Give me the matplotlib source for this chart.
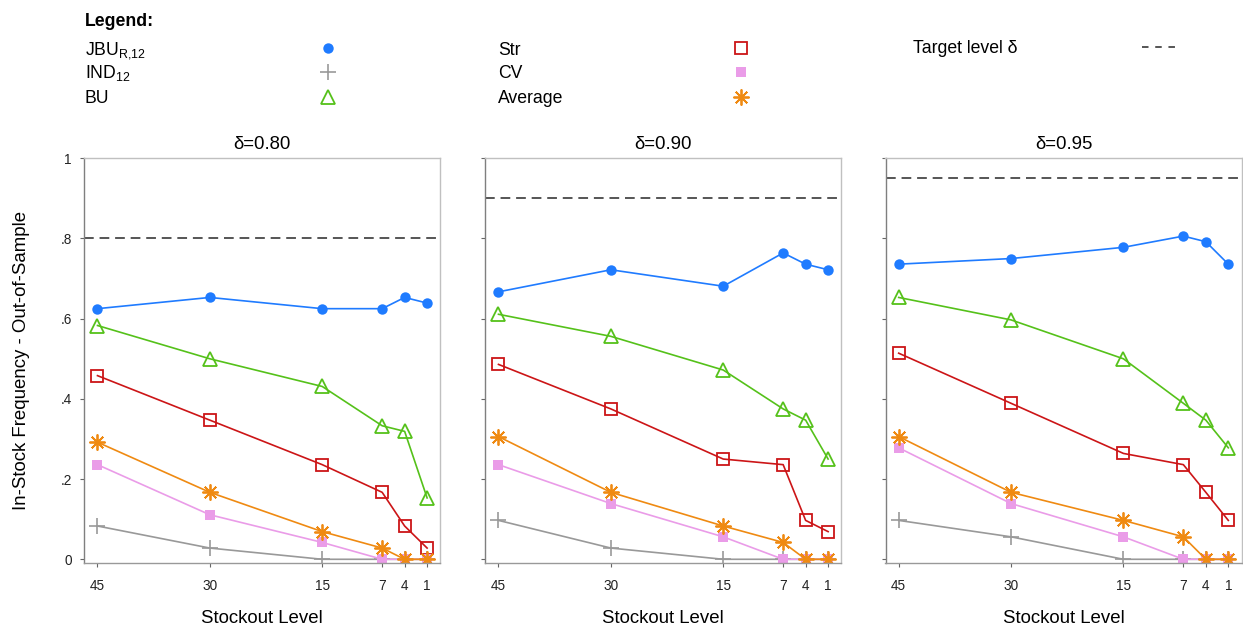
import numpy as np
import matplotlib.pyplot as plt

plt.rcParams['font.family'] = ['Liberation Sans', 'DejaVu Sans']
plt.rcParams['mathtext.fontset'] = 'custom'
plt.rcParams['mathtext.rm'] = 'Liberation Sans'

# data: one row per panel (delta = 0.80, 0.90, 0.95), columns follow `levels`
levels = [45, 30, 15, 7, 4, 1]
deltas = [0.80, 0.90, 0.95]
yticks = [0, 0.2, 0.4, 0.6, 0.8, 1]
ytick_labels = ["0", ".2", ".4", ".6", ".8", "1"]

jbu = [[0.625, 0.653, 0.625, 0.625, 0.653, 0.639],
       [0.667, 0.722, 0.681, 0.764, 0.736, 0.722],
       [0.736, 0.750, 0.778, 0.806, 0.792, 0.736]]
ind = [[0.083, 0.028, 0.0, 0.0, 0.0, 0.0],
       [0.097, 0.028, 0.0, 0.0, 0.0, 0.0],
       [0.097, 0.056, 0.0, 0.0, 0.0, 0.0]]
bu = [[0.583, 0.500, 0.431, 0.333, 0.319, 0.153],
      [0.611, 0.556, 0.472, 0.375, 0.347, 0.250],
      [0.653, 0.597, 0.500, 0.389, 0.347, 0.278]]
strat = [[0.458, 0.347, 0.236, 0.167, 0.083, 0.028],
         [0.486, 0.375, 0.250, 0.236, 0.097, 0.069],
         [0.514, 0.389, 0.264, 0.236, 0.167, 0.097]]
cv = [[0.236, 0.111, 0.042, 0.0, 0.0, 0.0],
      [0.236, 0.139, 0.056, 0.0, 0.0, 0.0],
      [0.278, 0.139, 0.056, 0.0, 0.0, 0.0]]
avg = [[0.292, 0.167, 0.069, 0.028, 0.0, 0.0],
       [0.306, 0.167, 0.083, 0.042, 0.0, 0.0],
       [0.306, 0.167, 0.097, 0.056, 0.0, 0.0]]

series = [
    (jbu, r"JBU$_{\mathregular{R{,}12}}$", dict(color="#1f7bff", marker="o", ms=7.5, mfc="#1f7bff", mew=0)),
    (ind, r"IND$_{\mathregular{12}}$", dict(color="#999999", marker="+", ms=12, mew=1.2)),
    (bu, "BU", dict(color="#55c11a", marker="^", ms=10.5, mfc="none", mew=1.3)),
    (strat, "Str", dict(color="#cc1517", marker="s", ms=8, mfc="none", mew=1.3)),
    (cv, "CV", dict(color="#ea9ce8", marker="s", ms=7, mfc="#ea9ce8", mew=0)),
    (avg, "Average", dict(color="#ef8a12", marker=(8, 2, 0), ms=11.5, mew=1.3)),
]

W, H = 1243, 628
fig = plt.figure(figsize=(W / 100, H / 100), dpi=100)

ax_w, top, bot = 356, 158.3, 562.7
lefts = [84.3, 485.3, 885.5]

for i, d in enumerate(deltas):
    ax = fig.add_axes([lefts[i] / W, 1 - bot / H, ax_w / W, (bot - top) / H])
    for data, name, st in series:
        ax.plot(levels, data[i], lw=1.2, **st)
    ax.axhline(d, color="#555555", lw=1.4, ls=(0, (5, 3)))
    ax.set_xlim(46.76, -0.76)
    ax.set_ylim(-0.0085, 1.0)
    ax.set_xticks(levels)
    ax.set_xticklabels([str(v) for v in levels])
    ax.set_yticks(yticks)
    if i == 0:
        ax.set_yticklabels(ytick_labels)
    else:
        ax.set_yticklabels([])
    ax.tick_params(axis="both", direction="out", length=3, width=0.8, color="#666666",
                   labelsize=9.8, labelcolor="#222222")
    ax.tick_params(axis="x", pad=9)
    ax.tick_params(axis="y", pad=6)
    ax.spines["left"].set_color("#7f7f7f")
    ax.spines["bottom"].set_color("#999999")
    ax.spines["top"].set_color("#c0c0c0")
    ax.spines["right"].set_color("#c0c0c0")
    for s in ax.spines.values():
        s.set_linewidth(1.0)
    ax.text(0.5, 1 + 14 / (bot - top), "\u03b4=%.2f" % d, transform=ax.transAxes,
            ha="center", va="center", fontsize=13.4)
    ax.set_xlabel("Stockout Level", fontsize=13.4, va="center")
    ax.xaxis.set_label_coords(0.5, -56 / (bot - top))

fig.text(22 / W, 1 - 360 / H, "In-Stock Frequency - Out-of-Sample", rotation=90,
         ha="center", va="center", fontsize=13.4)

# legend block on top
ov = fig.add_axes([0, 0, 1, 1])
ov.set_xlim(0, W)
ov.set_ylim(H, 0)
ov.axis("off")
ov.text(85, 25.7, "Legend:", fontsize=12.7, fontweight="bold", va="baseline")
base = [54.8, 78.3, 102.7]
mk_y = [47.7, 72.3, 96.7]
cols = [(85, 328), (498, 741.5)]
for k, (data, name, st) in enumerate(series):
    c, r = divmod(k, 3)
    tx, mx = cols[c]
    ov.text(tx, base[r], name, fontsize=12.7, va="baseline")
    ov.plot([mx], [mk_y[r]], ls="none", **st)
ov.text(912.7, 53.3, "Target level \u03b4", fontsize=12.7, va="baseline")
ov.plot([1142, 1175], [47.3, 47.3], color="#555555", lw=1.4, ls=(0, (3.35, 3.45)))

fig.savefig("out.png", dpi=100)
